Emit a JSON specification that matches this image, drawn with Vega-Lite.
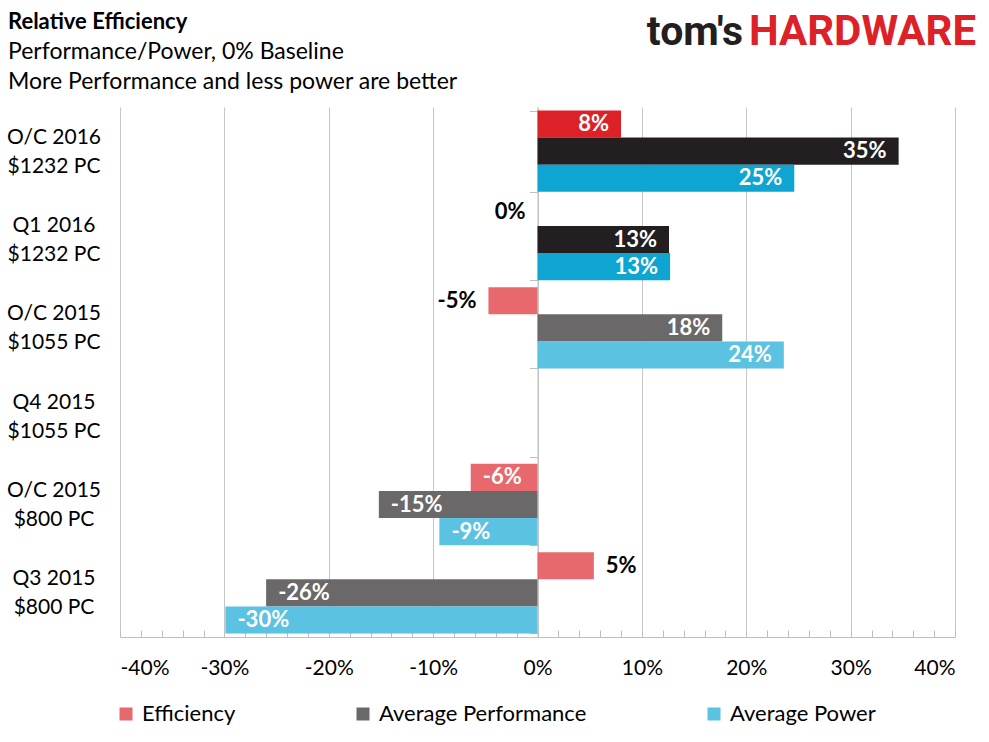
{
  "$schema": "https://vega.github.io/schema/vega-lite/v6.json",
  "width": 835,
  "height": 530,
  "autosize": "none",
  "padding": {"left": 120, "top": 107, "right": 34, "bottom": 105},
  "background": "white",
  "config": {"font": "Lato", "view": {"stroke": null}},
  "title": {
    "text": "Relative Efficiency",
    "subtitle": ["Performance/Power, 0% Baseline", "More Performance and less power are better"],
    "anchor": "start",
    "frame": "group",
    "dx": -112,
    "dy": 84,
    "font": "Lato",
    "fontSize": 22,
    "fontWeight": "bold",
    "color": "#000000",
    "subtitleFont": "Lato",
    "subtitleFontSize": 23,
    "subtitleColor": "#000000",
    "subtitleLineHeight": 30,
    "subtitlePadding": 7,
    "offset": 0
  },
  "data": {
    "values": [
      {"system": "O/C 2016 $1232 PC", "series": "Efficiency", "value": 8.0},
      {"system": "O/C 2016 $1232 PC", "series": "Average Performance", "value": 34.6},
      {"system": "O/C 2016 $1232 PC", "series": "Average Power", "value": 24.6},
      {"system": "Q1 2016 $1232 PC", "series": "Efficiency", "value": 0},
      {"system": "Q1 2016 $1232 PC", "series": "Average Performance", "value": 12.6},
      {"system": "Q1 2016 $1232 PC", "series": "Average Power", "value": 12.7},
      {"system": "O/C 2015 $1055 PC", "series": "Efficiency", "value": -4.7},
      {"system": "O/C 2015 $1055 PC", "series": "Average Performance", "value": 17.7},
      {"system": "O/C 2015 $1055 PC", "series": "Average Power", "value": 23.6},
      {"system": "O/C 2015 $800 PC", "series": "Efficiency", "value": -6.4},
      {"system": "O/C 2015 $800 PC", "series": "Average Performance", "value": -15.2},
      {"system": "O/C 2015 $800 PC", "series": "Average Power", "value": -9.4},
      {"system": "Q3 2015 $800 PC", "series": "Efficiency", "value": 5.4},
      {"system": "Q3 2015 $800 PC", "series": "Average Performance", "value": -26.0},
      {"system": "Q3 2015 $800 PC", "series": "Average Power", "value": -29.9}
    ]
  },
  "layer": [
    {
      "transform": [
        {"calculate": "indexof(datum.system, '2016') >= 0 ? datum.series + ' 2016' : datum.series", "as": "shade"},
        {"calculate": "round(datum.value) + '%'", "as": "label"}
      ],
      "encoding": {
        "y": {
          "field": "system",
          "type": "nominal",
          "sort": null,
          "scale": {
            "domain": ["O/C 2016 $1232 PC", "Q1 2016 $1232 PC", "O/C 2015 $1055 PC", "Q4 2015 $1055 PC", "O/C 2015 $800 PC", "Q3 2015 $800 PC"],
            "paddingInner": 0.08,
            "paddingOuter": 0.04
          },
          "axis": {
            "title": null,
            "orient": "left",
            "offset": -417.5,
            "grid": false,
            "domain": true,
            "domainColor": "#bfbfbf",
            "ticks": true,
            "tickSize": 8,
            "tickColor": "#bfbfbf",
            "tickBand": "extent",
            "labelAlign": "center",
            "labelBaseline": "middle",
            "labelPadding": 476,
            "labelOffset": -14,
            "labelFont": "Lato",
            "labelFontSize": 21,
            "labelColor": "#000000",
            "labelLineHeight": 29,
            "labelLimit": 300,
            "labelExpr": "[slice(datum.label, 0, indexof(datum.label, ' $')), slice(datum.label, indexof(datum.label, ' $') + 1)]"
          }
        },
        "yOffset": {
          "field": "series",
          "type": "nominal",
          "sort": null,
          "scale": {"domain": ["Efficiency", "Average Performance", "Average Power"], "paddingInner": 0, "paddingOuter": 0}
        }
      },
      "layer": [
        {
          "mark": {"type": "bar"},
          "encoding": {
            "x": {
              "field": "value",
              "type": "quantitative",
              "scale": {"domain": [-40, 40], "nice": false},
              "axis": {
                "title": null,
                "orient": "bottom",
                "values": [-40, -30, -20, -10, 0, 10, 20, 30, 40],
                "grid": true,
                "gridColor": "#c6c6c6",
                "domain": true,
                "domainColor": "#bfbfbf",
                "ticks": false,
                "labelPadding": 20,
                "labelFont": "Lato",
                "labelFontSize": 21,
                "labelColor": "#000000",
                "labelExpr": "datum.value + '%'"
              }
            },
            "x2": {"datum": 0},
            "color": {
              "field": "shade",
              "type": "nominal",
              "scale": {
                "domain": ["Efficiency", "Average Performance", "Average Power", "Efficiency 2016", "Average Performance 2016", "Average Power 2016"],
                "range": ["#e8696d", "#6b6869", "#5bc2e2", "#dc2128", "#231f20", "#0ea5d2"]
              },
              "legend": {
                "values": ["Efficiency", "Average Performance", "Average Power"],
                "orient": "none",
                "legendX": -5,
                "legendY": 596,
                "direction": "horizontal",
                "title": null,
                "padding": 0,
                "symbolType": "square",
                "symbolSize": 169,
                "symbolStrokeWidth": 0,
                "symbolOpacity": 1,
                "labelFont": "Lato",
                "labelFontSize": 22,
                "labelColor": "#000000",
                "labelOffset": 5,
                "labelLimit": 400,
                "columnPadding": 116
              }
            }
          }
        },
        {
          "transform": [
            {"filter": "(datum.value < 0 && abs(datum.value) >= 6) || (datum.value > 0 && abs(datum.value) < 6)"}
          ],
          "mark": {"type": "text", "align": "left", "baseline": "middle", "dx": 12, "font": "Lato", "fontSize": 22, "fontWeight": "bold"},
          "encoding": {
            "x": {"field": "value", "type": "quantitative", "axis": null},
            "text": {"field": "label"},
            "color": {"condition": {"test": "abs(datum.value) >= 6", "value": "#ffffff"}, "value": "#000000"}
          }
        },
        {
          "transform": [
            {"filter": "!((datum.value < 0 && abs(datum.value) >= 6) || (datum.value > 0 && abs(datum.value) < 6))"}
          ],
          "mark": {"type": "text", "align": "right", "baseline": "middle", "dx": -12, "font": "Lato", "fontSize": 22, "fontWeight": "bold"},
          "encoding": {
            "x": {
              "field": "value",
              "type": "quantitative",
              "axis": {
                "title": null,
                "orient": "bottom",
                "values": [-40, -38, -36, -34, -32, -30, -28, -26, -24, -22, -20, -18, -16, -14, -12, -10, -8, -6, -4, -2, 0, 2, 4, 6, 8, 10, 12, 14, 16, 18, 20, 22, 24, 26, 28, 30, 32, 34, 36, 38, 40],
                "labels": false,
                "grid": false,
                "domain": false,
                "ticks": true,
                "tickSize": -7,
                "tickColor": "#bfbfbf"
              }
            },
            "text": {"field": "label"},
            "color": {"condition": {"test": "abs(datum.value) >= 6", "value": "#ffffff"}, "value": "#000000"}
          }
        }
      ],
      "resolve": {"axis": {"x": "independent"}}
    },
    {
      "data": {"values": [{"brand": "tom's"}]},
      "mark": {"type": "text", "align": "right", "baseline": "alphabetic", "dx": -212, "font": "Roboto", "fontSize": 41, "fontWeight": "bold", "color": "#231f20"},
      "encoding": {
        "x": {"datum": 40, "type": "quantitative", "axis": null},
        "y": {"value": -62},
        "text": {"field": "brand"}
      }
    },
    {
      "data": {"values": [{"brand": "HARDWARE"}]},
      "mark": {"type": "text", "align": "right", "baseline": "alphabetic", "dx": 21, "font": "Roboto", "fontSize": 42, "fontWeight": "bold", "color": "#dc2128"},
      "encoding": {
        "x": {"datum": 40, "type": "quantitative", "axis": null},
        "y": {"value": -62},
        "text": {"field": "brand"}
      }
    }
  ]
}
